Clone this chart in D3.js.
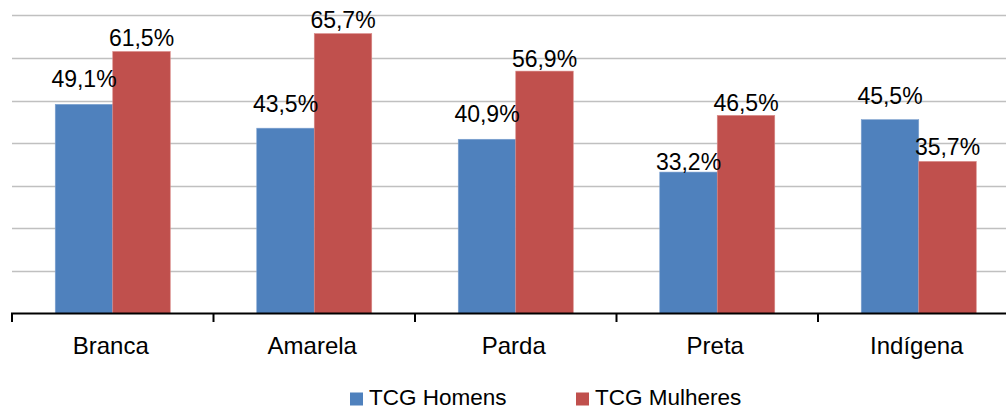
<!DOCTYPE html>
<html>
<head>
<meta charset="utf-8">
<script src="https://cdn.jsdelivr.net/npm/d3@7"></script>
<style>
  html, body { margin: 0; padding: 0; background: #fff; }
  svg { display: block; }
  text { font-family: "Liberation Sans", Arial, sans-serif; fill: #000; }
</style>
</head>
<body>
<svg id="chart" width="1006" height="410"></svg>
<script>
// ---- data ----
const categories = ["Branca", "Amarela", "Parda", "Preta", "Indígena"];
const seriesNames = ["TCG Homens", "TCG Mulheres"];
const homens = [49.1, 43.5, 40.9, 33.2, 45.5];
const mulheres = [61.5, 65.7, 56.9, 46.5, 35.7];
const yTicks = [0, 10, 20, 30, 40, 50, 60, 70];
// label gap above bar top (style)
const homensLabelGap = [17, 16, 17, 2, 16];
const mulheresLabelGap = [6, 6, 4, 4, 6];

const colors = ["#4F81BD", "#C0504D"];
const seriesValues = [homens, mulheres];
const seriesGaps = [homensLabelGap, mulheresLabelGap];

const svg = d3.select("#chart");
const plotLeft = 12, plotRight = 1019.5, plotBottom = 313.5, plotTop = 15.3;

const x0 = d3.scaleBand().domain(categories).range([plotLeft, plotRight]).paddingInner(0).paddingOuter(0);
const x1 = d3.scaleBand().domain(seriesNames).range([0, x0.bandwidth()]).paddingInner(0).paddingOuter(0.752);
const y = d3.scaleLinear().domain([0, 70]).range([plotBottom, plotTop]);

const fmt = v => d3.format(".1f")(v).replace(".", ",") + "%";

// gridlines
svg.append("g").selectAll("line")
  .data(yTicks.filter(t => t > 0))
  .join("line")
  .attr("x1", plotLeft).attr("x2", 1006)
  .attr("y1", d => Math.round(y(d)) + 0.5).attr("y2", d => Math.round(y(d)) + 0.5)
  .attr("stroke", "#c0c0c0").attr("stroke-width", 1.3);

// bars
const rows = categories.map((c, i) => ({ c, i }));
const groups = svg.append("g").selectAll("g")
  .data(rows).join("g")
  .attr("transform", d => `translate(${x0(d.c)},0)`);

seriesNames.forEach((s, si) => {
  groups.append("rect")
    .attr("x", x1(s))
    .attr("width", x1.bandwidth())
    .attr("y", d => y(seriesValues[si][d.i]))
    .attr("height", d => plotBottom - y(seriesValues[si][d.i]))
    .attr("fill", colors[si])
    .attr("stroke", si === 0 ? "#7FA2D0" : "#D98A88")
    .attr("stroke-width", 0.6);
});

// data labels
seriesNames.forEach((s, si) => {
  groups.append("text")
    .attr("x", x1(s) + x1.bandwidth() / 2)
    .attr("y", d => y(seriesValues[si][d.i]) - seriesGaps[si][d.i])
    .attr("text-anchor", "middle")
    .style("font-size", "23px")
    .text(d => fmt(seriesValues[si][d.i]));
});

// x axis
const axis = svg.append("g").attr("transform", `translate(0,${plotBottom})`);
axis.append("line").attr("x1", plotLeft - 1).attr("x2", 1006).attr("y1", 0).attr("y2", 0)
  .attr("stroke", "#000").attr("stroke-width", 2.2);
axis.selectAll("line.tick")
  .data(categories).join("line").attr("class", "tick")
  .attr("x1", d => x0(d)).attr("x2", d => x0(d))
  .attr("y1", 0).attr("y2", 8.5)
  .attr("stroke", "#000").attr("stroke-width", 2);
axis.selectAll("text")
  .data(categories).join("text")
  .attr("x", d => x0(d) + x0.bandwidth() / 2 - 2)
  .attr("y", 40.5)
  .attr("text-anchor", "middle")
  .style("font-size", "24px")
  .text(d => d);

// legend
const legendX = [350, 576];
const legend = svg.append("g");
seriesNames.forEach((s, si) => {
  legend.append("rect")
    .attr("x", legendX[si]).attr("y", 392.5).attr("width", 13).attr("height", 13)
    .attr("fill", colors[si]);
  legend.append("text")
    .attr("x", legendX[si] + 19)
    .attr("y", 404.5)
    .style("font-size", "22.5px")
    .text(s);
});
</script>
</body>
</html>
